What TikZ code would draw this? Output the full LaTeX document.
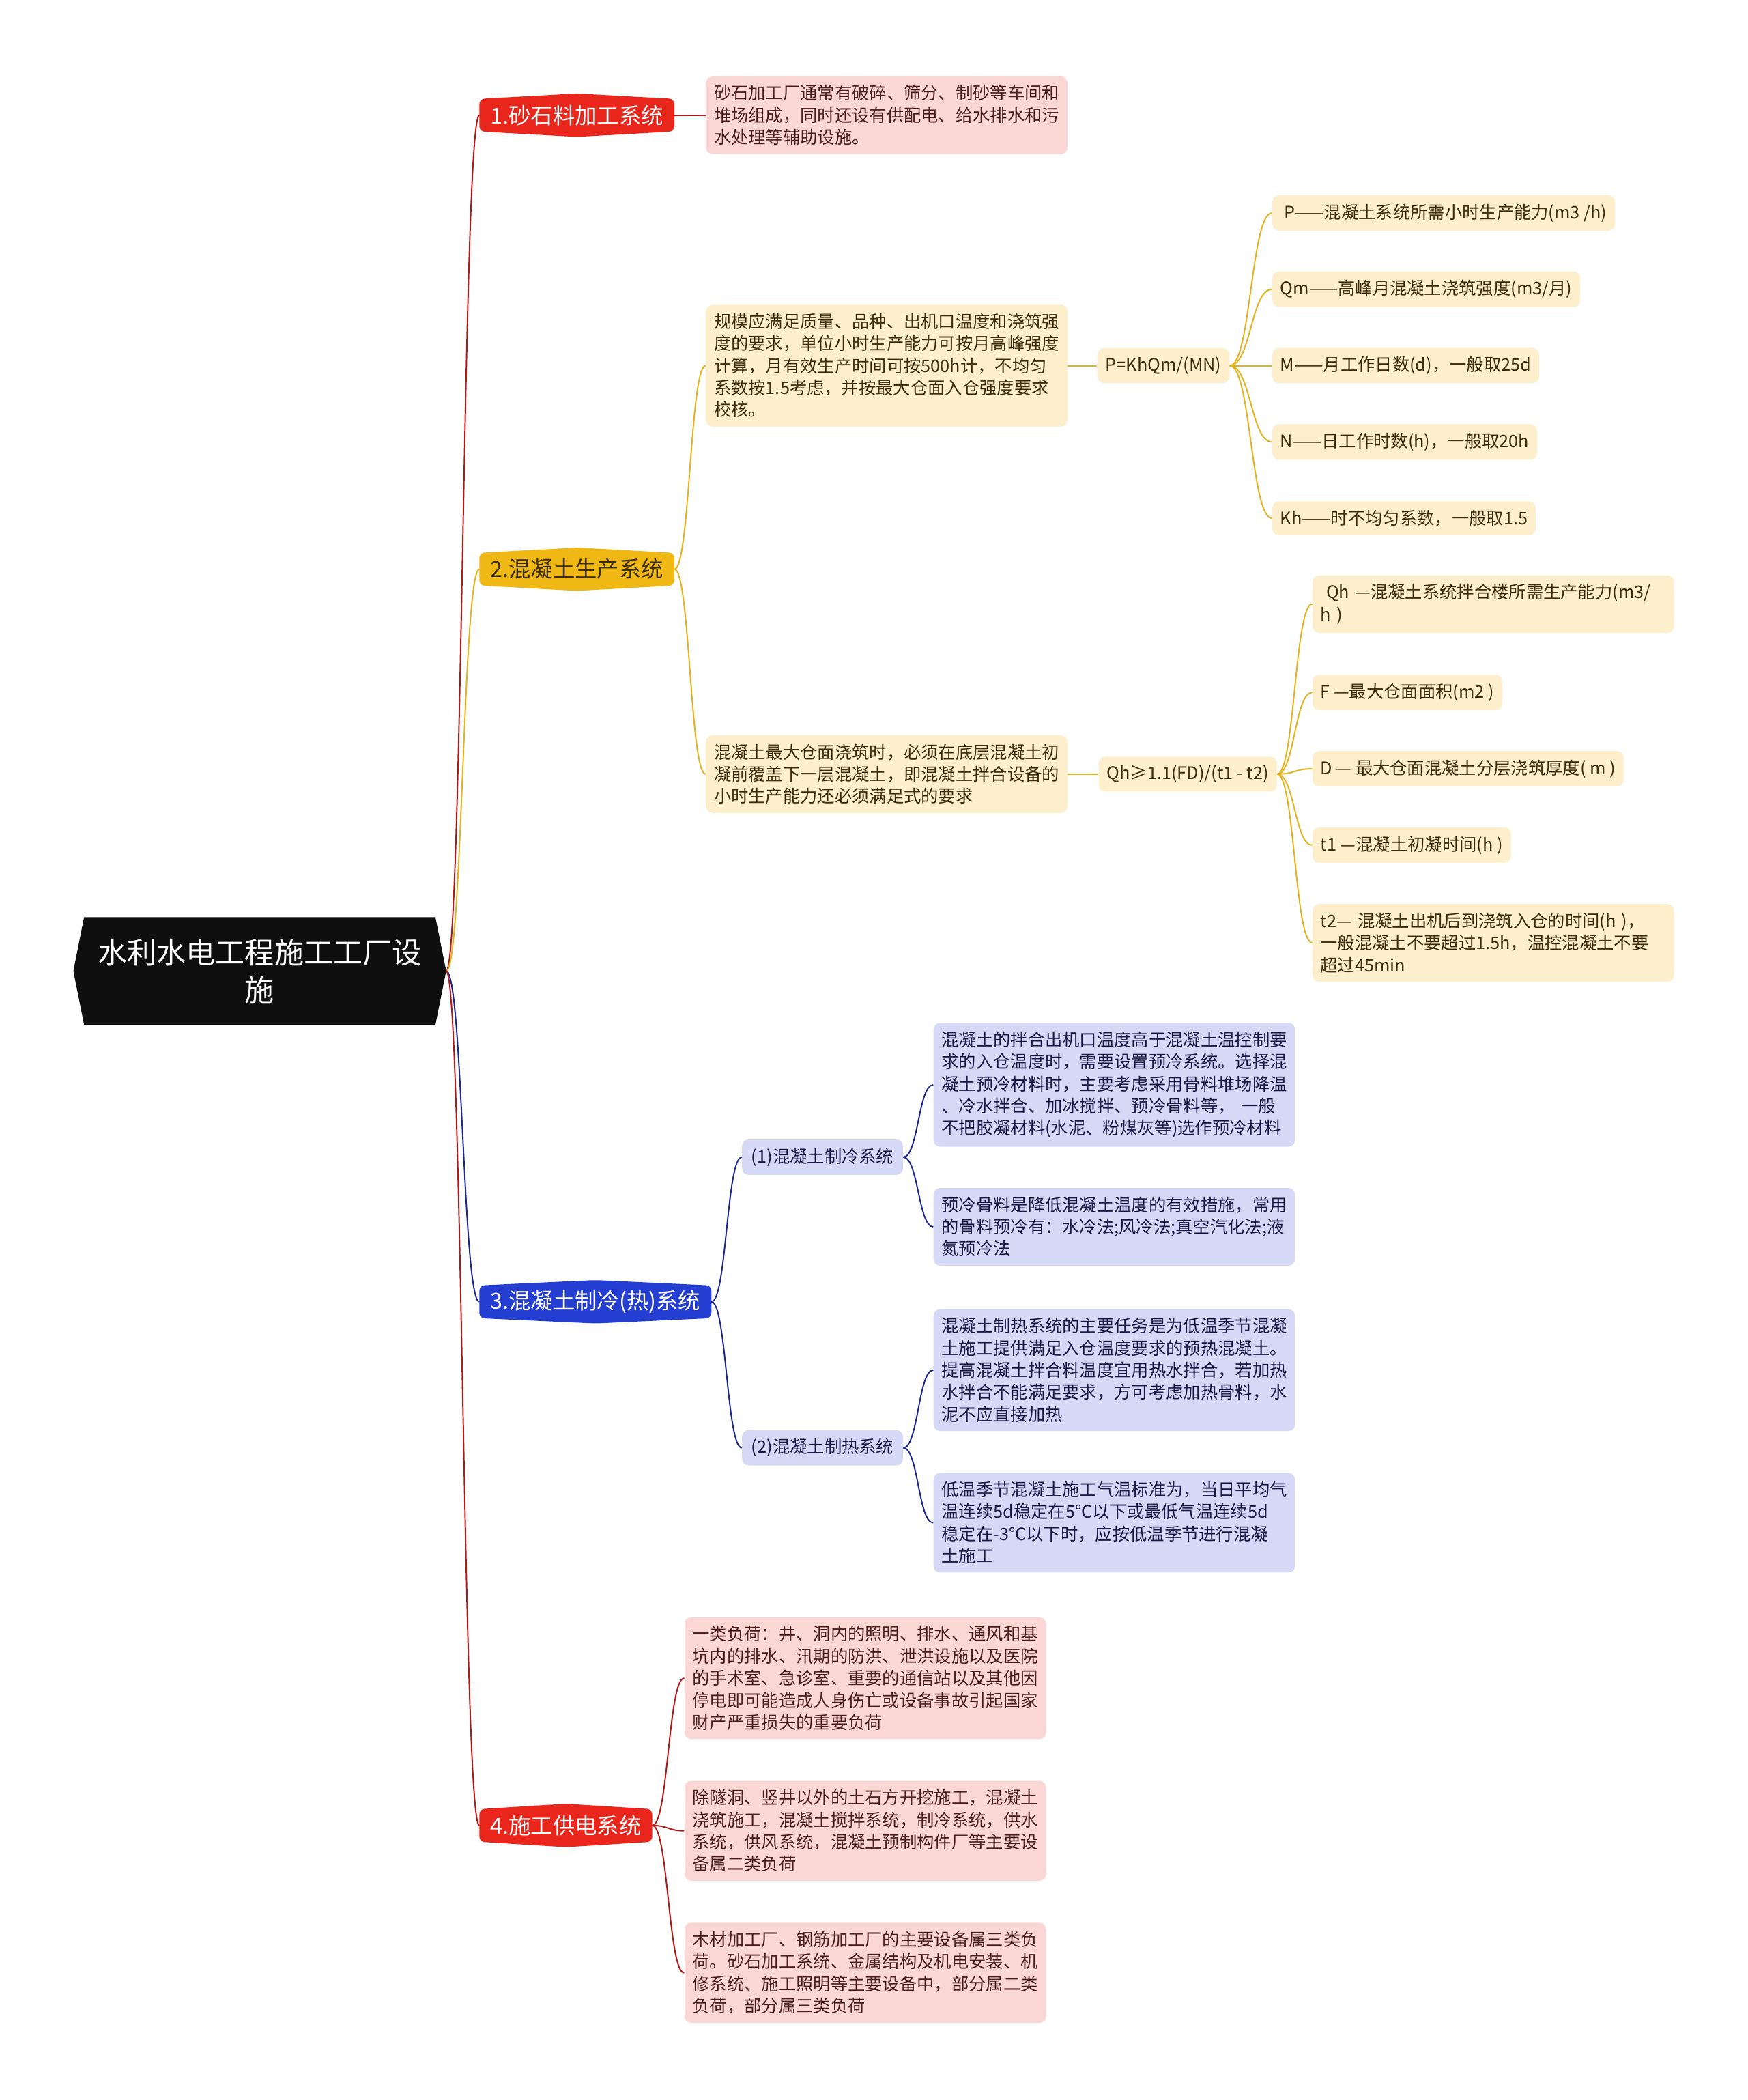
\documentclass[tikz,border=0pt]{standalone}
\usepackage{fontspec}
\setmainfont{Noto Sans CJK SC}
\usepackage{tikz}
\usetikzlibrary{positioning,calc}
\pgfdeclarelayer{bg}
\pgfsetlayers{bg,main}
\definecolor{rootblack} {RGB}{15,15,15}
\definecolor{brred}     {RGB}{232,38,28}
\definecolor{bryellow}  {RGB}{239,184,20}
\definecolor{brblue}    {RGB}{36,62,210}
\definecolor{leafpink}  {RGB}{250,214,212}
\definecolor{leafyellow}{RGB}{253,239,204}
\definecolor{leafblue}  {RGB}{213,217,246}
\definecolor{linered}   {RGB}{178,24,24}
\definecolor{lineyellow}{RGB}{228,178,30}
\definecolor{lineblue}  {RGB}{30,40,140}
\definecolor{txtred}    {RGB}{75,30,30}
\definecolor{txtyellow} {RGB}{60,45,10}
\definecolor{txtblue}   {RGB}{25,25,70}
\tikzset{
  rootbox/.style  ={minimum width=262pt, minimum height=80pt, align=center,
                    text=white, inner sep=0pt,
                    font=\fontsize{22}{28}\selectfont},
  branchbox/.style={anchor=west, minimum height=24pt, inner xsep=8pt,
                    inner ysep=0pt, font=\fontsize{16.5}{20}\selectfont},
  notebox/.style  ={anchor=west, rounded corners=5pt, align=left,
                    inner xsep=6pt, inner ysep=6.5pt,
                    font=\fontsize{12.9}{16.5}\selectfont},
  leafbox/.style  ={notebox, text width=258pt},
  pinkleaf/.style ={leafbox, fill=leafpink, text=txtred},
  yelleaf/.style  ={leafbox, fill=leafyellow, text=txtyellow},
  blueleaf/.style ={leafbox, fill=leafblue, text=txtblue},
  yelnote/.style  ={notebox, fill=leafyellow, text=txtyellow},
  bluenote/.style ={notebox, fill=leafblue, text=txtblue, inner xsep=7pt},
  link/.style     ={to path={let \p1=(\tikztostart), \p2=(\tikztotarget) in
                    .. controls ({0.5*\x1+0.5*\x2},\y1) and ({0.5*\x1+0.5*\x2},\y2)
                    .. (\tikztotarget)}},
  redline/.style  ={draw=linered, line width=1pt},
  yelline/.style  ={draw=lineyellow, line width=1pt},
  blueline/.style ={draw=lineblue, line width=1pt},
}

\begin{document}
\begin{tikzpicture}[x=1pt,y=-1pt,node distance=22pt]
  \useasboundingbox (0,0) rectangle (1305,1568);
  % root and main branches
  \node[rootbox] (root) at (194,725) {水利水电工程施工工厂设\\施};
  \coordinate (rootR) at ([xshift=8pt]root.east);
  \node[branchbox, text=white] (b1) at (358,86) {1.砂石料加工系统};
  \node[branchbox, text=txtyellow] (b2) at (358,425) {2.混凝土生产系统};
  \node[branchbox, text=white] (b3) at (358,972) {3.混凝土制冷(热)系统};
  \node[branchbox, text=white] (b4) at (358,1363) {4.施工供电系统};

  \node[pinkleaf] (leaf1) at (527,86) {砂石加工厂通常有破碎、筛分、制砂等车间和\\
    堆场组成，同时还设有供配电、给水排水和污\\水处理等辅助设施。};

  % concrete production
  \node[yelleaf] (l2a) at (527,273) {规模应满足质量、品种、出机口温度和浇筑强\\
    度的要求，单位小时生产能力可按月高峰强度\\计算，月有效生产时间可按500h计，不均匀\\
    系数按1.5考虑，并按最大仓面入仓强度要求\\校核。};
  \node[yelnote, right=22pt of l2a] (f1) {P=KhQm/(MN)};
  \node[yelnote] (p1) at (950,159) {~P——混凝土系统所需小时生产能力(m3 /h)};
  \node[yelnote] (p2) at (950,216) {Qm——高峰月混凝土浇筑强度(m3/月)};
  \node[yelnote] (p3) at (950,273) {M——月工作日数(d)，一般取25d};
  \node[yelnote] (p4) at (950,330) {N——日工作时数(h)，一般取20h};
  \node[yelnote] (p5) at (950,387) {Kh——时不均匀系数，一般取1.5};

  \node[yelleaf] (l2b) at (527,578) {混凝土最大仓面浇筑时，必须在底层混凝土初\\
    凝前覆盖下一层混凝土，即混凝土拌合设备的\\小时生产能力还必须满足式的要求};
  \node[yelnote, right=23pt of l2b] (f2) {Qh≥1.1(FD)/(t1 - t2)};
  \node[yelleaf] (q1) at (980,451) {~Qh —混凝土系统拌合楼所需生产能力(m3/\\h )};
  \node[yelnote] (q2) at (980,517) {F —最大仓面面积(m2 )};
  \node[yelnote] (q3) at (980,574) {D — 最大仓面混凝土分层浇筑厚度( m )};
  \node[yelnote] (q4) at (980,631) {t1 —混凝土初凝时间(h )};
  \node[yelleaf] (q5) at (980,704) {t2— 混凝土出机后到浇筑入仓的时间(h )，\\
    一般混凝土不要超过1.5h，温控混凝土不要\\超过45min};

  % cooling / heating
  \node[bluenote] (s1) at (554,864) {(1)混凝土制冷系统};
  \node[bluenote] (s2) at (554,1081) {(2)混凝土制热系统};
  \node[blueleaf] (l3a) at (697,810) {混凝土的拌合出机口温度高于混凝土温控制要\\
    求的入仓温度时，需要设置预冷系统。选择混\\凝土预冷材料时，主要考虑采用骨料堆场降温\\
    、冷水拌合、加冰搅拌、预冷骨料等， 一般\\不把胶凝材料(水泥、粉煤灰等)选作预冷材料};
  \node[blueleaf] (l3b) at (697,916) {预冷骨料是降低混凝土温度的有效措施，常用\\
    的骨料预冷有：水冷法;风冷法;真空汽化法;液\\氮预冷法};
  \node[blueleaf] (l3c) at (697,1023) {混凝土制热系统的主要任务是为低温季节混凝\\
    土施工提供满足入仓温度要求的预热混凝土。\\提高混凝土拌合料温度宜用热水拌合，若加热\\
    水拌合不能满足要求，方可考虑加热骨料，水\\泥不应直接加热};
  \node[blueleaf] (l3d) at (697,1137) {低温季节混凝土施工气温标准为，当日平均气\\
    温连续5d稳定在5℃以下或最低气温连续5d\\稳定在-3℃以下时，应按低温季节进行混凝\\土施工};

  % power supply
  \node[pinkleaf] (l4a) at (511,1253) {一类负荷：井、洞内的照明、排水、通风和基\\
    坑内的排水、汛期的防洪、泄洪设施以及医院\\的手术室、急诊室、重要的通信站以及其他因\\
    停电即可能造成人身伤亡或设备事故引起国家\\财产严重损失的重要负荷};
  \node[pinkleaf] (l4b) at (511,1367) {除隧洞、竖井以外的土石方开挖施工，混凝土\\
    浇筑施工，混凝土搅拌系统，制冷系统，供水\\系统，供风系统，混凝土预制构件厂等主要设\\
    备属二类负荷};
  \node[pinkleaf] (l4c) at (511,1473) {木材加工厂、钢筋加工厂的主要设备属三类负\\
    荷。砂石加工系统、金属结构及机电安装、机\\修系统、施工照明等主要设备中，部分属二类\\
    负荷，部分属三类负荷};

  % shapes behind the text
  \begin{pgfonlayer}{bg}
    \fill[white] (0,0) rectangle (1305,1568);
    \fill[rootblack] (root.north west) -- (root.north east) -- (rootR)
      -- (root.south east) -- (root.south west)
      -- ([xshift=-8pt]root.west) -- cycle;
    \foreach \n/\c in {b1/brred,b2/bryellow,b3/brblue,b4/brred}
      \fill[\c, rounded corners=4pt] (\n.north west) -- ([yshift=4pt]\n.north)
        -- (\n.north east) -- (\n.south east) -- ([yshift=-4pt]\n.south)
        -- (\n.south west) -- cycle;
  \end{pgfonlayer}

  % connectors
  \draw[redline]  (rootR) to[link] (b1.west);
  \draw[yelline]  (rootR) to[link] (b2.west);
  \draw[blueline] (rootR) to[link] (b3.west);
  \draw[redline]  (rootR) to[link] (b4.west);
  \draw[redline]  (b1.east) to[link] (leaf1.west);
  \foreach \c in {l2a,l2b} \draw[yelline] (b2.east) to[link] (\c.west);
  \draw[yelline] (l2a.east) to[link] (f1.west);
  \draw[yelline] (l2b.east) to[link] (f2.west);
  \foreach \c in {p1,p2,p3,p4,p5} \draw[yelline] (f1.east) to[link] (\c.west);
  \foreach \c in {q1,q2,q3,q4,q5} \draw[yelline] (f2.east) to[link] (\c.west);
  \foreach \c in {s1,s2} \draw[blueline] (b3.east) to[link] (\c.west);
  \foreach \c in {l3a,l3b} \draw[blueline] (s1.east) to[link] (\c.west);
  \foreach \c in {l3c,l3d} \draw[blueline] (s2.east) to[link] (\c.west);
  \foreach \c in {l4a,l4b,l4c} \draw[redline] (b4.east) to[link] (\c.west);
\end{tikzpicture}
\end{document}
